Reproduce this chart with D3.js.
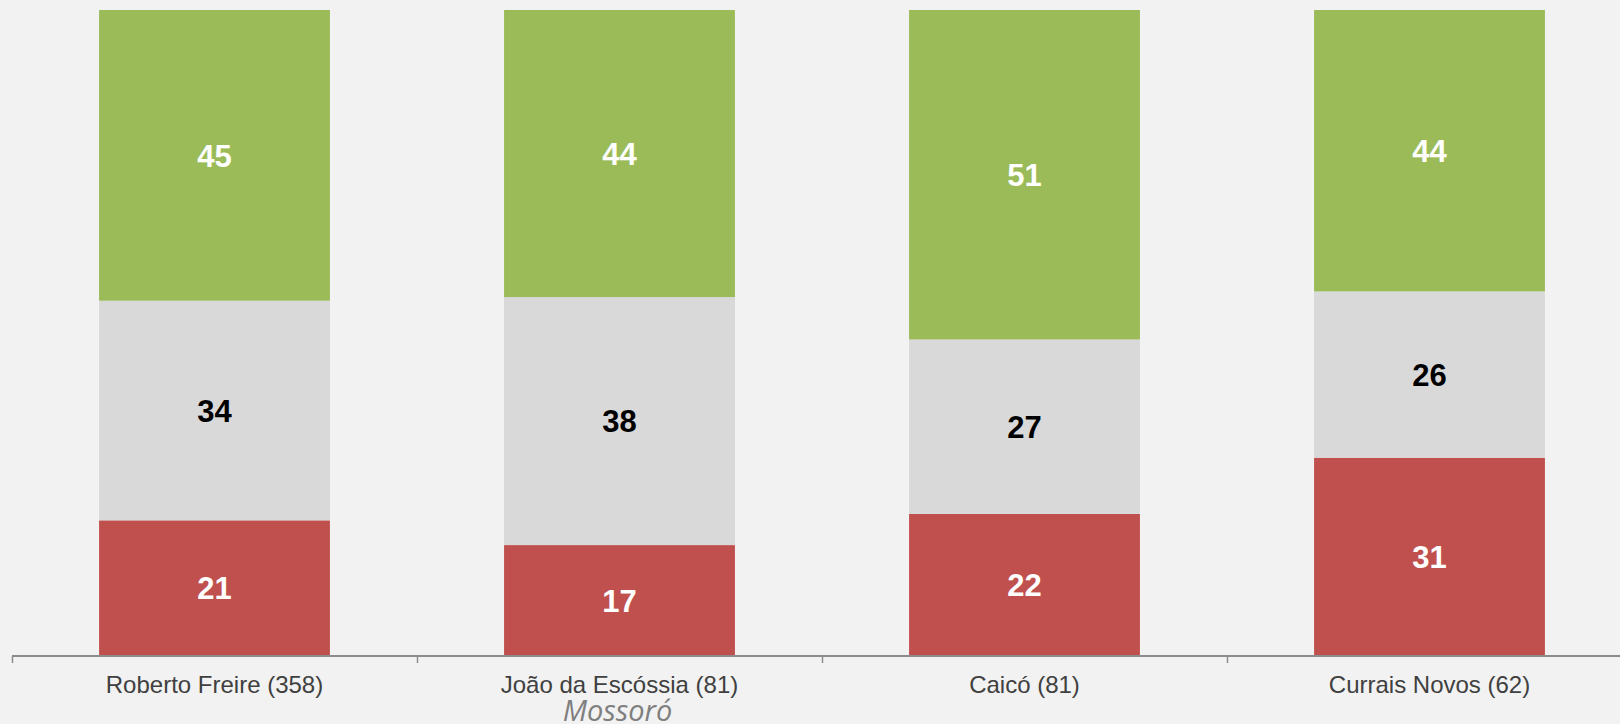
<!DOCTYPE html>
<html>
<head>
<meta charset="utf-8">
<script src="https://cdn.jsdelivr.net/npm/d3@7"></script>
<style>
  html, body { margin: 0; padding: 0; background: #F2F2F2; }
  svg { display: block; }
</style>
</head>
<body>
<svg id="chart" width="1620" height="724"></svg>
<script>
// ---- data ----
const categories = ["Roberto Freire (358)", "João da Escóssia (81)", "Caicó (81)", "Currais Novos (62)"];
const seriesNames = ["neg", "neu", "pos"];
const negValues = [21, 17, 22, 31];
const neuValues = [34, 38, 27, 26];
const posValues = [45, 44, 51, 44];
const subLabel = "Mossoró";
const subLabelCategory = "João da Escóssia (81)";

const colors = { neg: "#C0504D", neu: "#D9D9D9", pos: "#9BBB59" };
const labelColors = { neg: "#FFFFFF", neu: "#000000", pos: "#FFFFFF" };

const rows = categories.map((c, i) => ({ cat: c, neg: negValues[i], neu: neuValues[i], pos: posValues[i] }));

const svg = d3.select("#chart");
const x0 = 12, x1 = 12 + 405 * 4;
const yTop = 10, yBottom = 656;

const x = d3.scaleBand().domain(categories).range([x0, x1]).paddingInner(0.43).paddingOuter(0.215);
const y = d3.scaleLinear().domain([0, 1]).range([yBottom, yTop]);

const stack = d3.stack().keys(seriesNames).offset(d3.stackOffsetExpand);
const stacked = stack(rows);

const g = svg.append("g");
stacked.forEach(layer => {
  const key = layer.key;
  const lg = g.append("g");
  lg.selectAll("rect").data(layer).join("rect")
    .attr("x", d => x(d.data.cat))
    .attr("width", x.bandwidth())
    .attr("y", d => y(d[1]))
    .attr("height", d => y(d[0]) - y(d[1]))
    .attr("fill", colors[key]);
  lg.selectAll("text").data(layer).join("text")
    .attr("x", d => x(d.data.cat) + x.bandwidth() / 2)
    .attr("y", d => (y(d[0]) + y(d[1])) / 2)
    .attr("dy", "0.36em")
    .attr("text-anchor", "middle")
    .attr("font-family", "'Liberation Sans', Arial, sans-serif")
    .attr("font-weight", "bold")
    .attr("font-size", 31)
    .attr("fill", labelColors[key])
    .text(d => d.data[key]);
});

// axis: band boundaries as ticks
const xTickScale = d3.scaleLinear().domain([0, categories.length]).range([x0, x1]);
const axisG = svg.append("g").attr("transform", `translate(0,${yBottom})`);
axisG.call(d3.axisBottom(xTickScale).tickValues(d3.range(0, categories.length)).tickSize(7).tickFormat(""));
axisG.select(".domain").attr("stroke", "#8C8C8C").attr("stroke-width", 2)
  .attr("d", `M${x0},0H${x1}`);
axisG.selectAll(".tick line").attr("stroke", "#8C8C8C").attr("stroke-width", 1.5);

// category labels
svg.append("g").selectAll("text").data(categories).join("text")
  .attr("x", d => x(d) + x.bandwidth() / 2)
  .attr("y", 693)
  .attr("text-anchor", "middle")
  .attr("font-family", "'Liberation Sans', Arial, sans-serif")
  .attr("font-size", 24)
  .attr("fill", "#404040")
  .text(d => d);

svg.append("text")
  .attr("x", x(subLabelCategory) + x.bandwidth() / 2 - 2)
  .attr("y", 721)
  .attr("text-anchor", "middle")
  .attr("font-family", "'Open Sans', sans-serif")
  .attr("font-style", "italic")
  .attr("font-size", 29)
  .attr("fill", "#7F7F7F")
  .text(subLabel);
</script>
</body>
</html>
